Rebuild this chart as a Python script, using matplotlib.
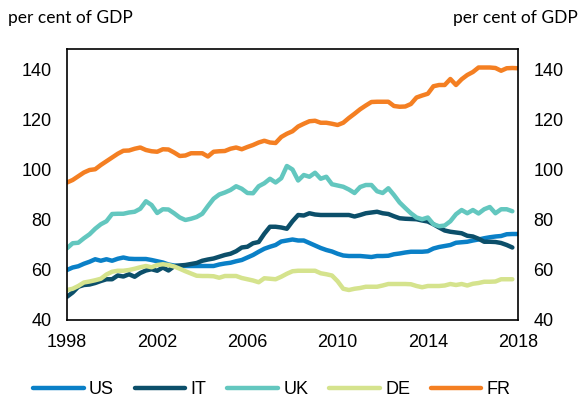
import matplotlib
matplotlib.use("Agg")
import matplotlib.pyplot as plt
import numpy as np

# quarterly government debt, per cent of GDP, 1998Q1 onwards
start_year = 1998
us = [60.0, 61.0, 61.5, 62.5, 63.3, 64.3, 63.7, 64.3, 63.7, 64.5,
      65.0, 64.5, 64.4, 64.4, 64.4, 64.0, 63.5, 63.0, 62.2, 61.8,
      61.6, 61.6, 61.6, 61.6, 61.6, 61.6, 61.6, 62.2, 62.6, 62.9,
      63.5, 64.0, 65.0, 66.0, 67.3, 68.5, 69.3, 70.0, 71.4, 71.8,
      72.2, 71.8, 71.8, 70.8, 69.8, 68.8, 68.0, 67.4, 66.5, 65.8,
      65.6, 65.6, 65.6, 65.4, 65.2, 65.6, 65.6, 65.7, 66.3, 66.6,
      67.0, 67.3, 67.3, 67.3, 67.5, 68.6, 69.2, 69.6, 70.0, 70.9,
      71.1, 71.3, 71.8, 72.2, 72.7, 73.1, 73.4, 73.6, 74.3, 74.4,
      74.4]
it = [49.3, 51.0, 53.3, 54.0, 54.2, 54.8, 55.6, 56.3, 56.3, 57.8,
      57.4, 58.3, 57.3, 58.8, 59.8, 60.3, 59.7, 61.0, 59.8, 61.5,
      61.8, 62.0, 62.4, 62.8, 63.7, 64.2, 64.6, 65.3, 66.0, 66.5,
      67.5, 69.0, 69.3, 70.7, 71.2, 74.5, 77.3, 77.3, 77.0, 76.5,
      79.5, 82.0, 81.8, 82.7, 82.2, 82.0, 82.0, 82.0, 82.0, 82.0,
      82.0, 81.4, 82.0, 82.7, 83.0, 83.3, 82.7, 82.4, 81.5, 80.7,
      80.5, 80.4, 80.3, 79.8, 79.4, 78.3, 77.0, 75.8, 75.3, 75.0,
      74.7, 73.7, 73.4, 72.5, 71.3, 71.3, 71.2, 70.8, 70.0, 69.0]
uk = [68.7, 70.7, 70.9, 72.7, 74.3, 76.5, 78.3, 79.5, 82.4, 82.5,
      82.5, 83.0, 83.3, 84.5, 87.5, 86.0, 82.8, 84.3, 84.2, 82.7,
      81.0, 80.0, 80.5, 81.2, 82.5, 85.6, 88.5, 90.2, 91.0, 92.0,
      93.5, 92.5, 90.8, 90.7, 93.5, 94.7, 96.5, 95.0, 96.7, 101.6,
      100.2, 95.8, 98.0, 97.3, 98.9, 96.5, 97.3, 94.3, 93.8, 93.3,
      92.2, 90.8, 93.2, 94.0, 94.0, 91.5, 90.8, 92.7, 90.0, 87.0,
      84.8, 82.7, 81.0, 80.3, 81.0, 78.3, 77.5, 77.8, 79.5, 82.3,
      84.0, 82.7, 84.0, 82.6, 84.3, 85.2, 82.7, 84.3, 84.3, 83.5]
de = [52.0, 52.5, 53.6, 55.0, 55.4, 55.9, 56.5, 58.2, 59.3, 59.7,
      59.7, 60.0, 60.5, 61.1, 61.6, 61.1, 62.0, 62.3, 62.0, 61.4,
      60.5, 59.5, 58.6, 57.7, 57.6, 57.6, 57.5, 56.9, 57.6, 57.6,
      57.6, 56.8, 56.3, 55.8, 55.1, 56.7, 56.5, 56.3, 57.3, 58.5,
      59.5, 59.7, 59.7, 59.7, 59.7, 58.7, 58.3, 57.8, 55.5, 52.5,
      52.0, 52.5, 52.8, 53.3, 53.3, 53.3, 53.8, 54.4, 54.4, 54.4,
      54.4, 54.3, 53.6, 53.1, 53.6, 53.6, 53.6, 53.8, 54.4, 54.0,
      54.4, 53.8, 54.5, 54.8, 55.3, 55.3, 55.4, 56.3, 56.3, 56.3]
fr = [95.0, 96.0, 97.5, 99.0, 100.0, 100.3, 102.0, 103.5, 105.0, 106.5,
      107.7, 107.8, 108.5, 109.0, 108.0, 107.5, 107.3, 108.3, 108.2, 107.0,
      105.6, 105.8, 106.7, 106.7, 106.7, 105.4, 107.3, 107.5, 107.6, 108.5,
      109.0, 108.3, 109.2, 110.0, 111.0, 111.7, 111.0, 110.8, 113.2, 114.5,
      115.5, 117.4, 118.5, 119.5, 119.7, 118.9, 118.9, 118.5, 118.0, 118.9,
      120.8, 122.5, 124.3, 125.8, 127.2, 127.3, 127.3, 127.3, 125.6, 125.3,
      125.4, 126.4, 129.0, 129.8, 130.5, 133.5, 134.0, 134.0, 136.4, 134.0,
      136.3, 138.0, 139.2, 141.0, 141.0, 141.0, 140.8, 139.7, 140.7, 140.8,
      140.7]

names = ['US', 'IT', 'UK', 'DE', 'FR']
series = [us, it, uk, de, fr]
colors = ['#0a80c7', '#0c4f6a', '#63c7bf', '#d5e38d', '#f47f22']
xticks = [1998, 2002, 2006, 2010, 2014, 2018]
yticks = [40, 60, 80, 100, 120, 140]

fig = plt.figure(figsize=(5.82, 4.01), dpi=100)
ax = fig.add_axes([67 / 582, 1 - 320 / 401, 451 / 582, 271 / 401])

for name, vals, c in zip(names, series, colors):
    x = start_year + 0.25 * np.arange(len(vals))
    ax.plot(x, vals, color=c, lw=3.2, label=name, solid_capstyle='round')

ax.set_xlim(1998, 2018)
ax.set_ylim(40, 148.4)
ax.set_xticks(xticks)
ax.set_yticks(yticks)
ax.tick_params(axis='both', length=0, labelsize=13)
ax.tick_params(axis='y', labelright=True, pad=11)
ax.tick_params(axis='x', pad=10)
for lab in ax.get_xticklabels() + ax.get_yticklabels():
    lab.set_family('Liberation Sans')
for s in ax.spines.values():
    s.set_linewidth(1.2)
    s.set_color('black')

fig.text(8 / 582, 1 - 18 / 401, 'per cent of GDP', family='Lato', fontsize=12.5,
         ha='left', va='center')
fig.text(578 / 582, 1 - 18 / 401, 'per cent of GDP', family='Lato', fontsize=12.5,
         ha='right', va='center')

leg = fig.legend(loc='center', bbox_to_anchor=(272 / 582, 1 - 390 / 401), ncol=5,
                 frameon=False, handlelength=2.8, columnspacing=1.15,
                 handletextpad=0.3, prop={'family': 'Liberation Sans', 'size': 13})

fig.savefig('out.png', dpi=100)
